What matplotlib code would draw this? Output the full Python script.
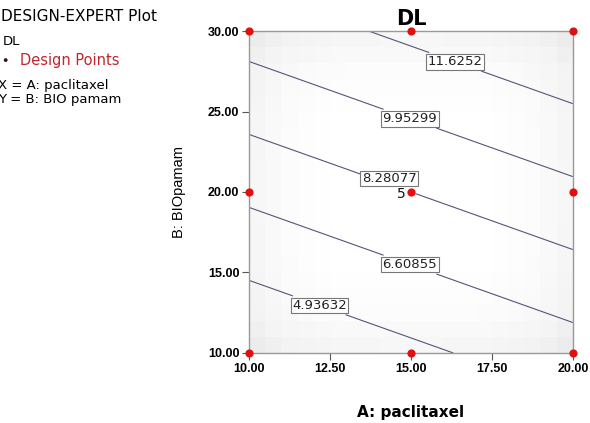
import numpy as np
import matplotlib
matplotlib.use("Agg")
import matplotlib.pyplot as plt

plt.rcParams['font.family'] = ['Liberation Sans', 'DejaVu Sans']

# Data
x_ticks = [10.00, 12.50, 15.00, 17.50, 20.00]
y_ticks = [10.00, 15.00, 20.00, 25.00, 30.00]
contour_levels = [4.93632, 6.60855, 8.28077, 9.95299, 11.6252]
contour_texts = ['4.93632', '6.60855', '8.28077', '9.95299', '11.6252']
# fitted linear model in coded units: DL = b0 + bA*A + bB*B
b0, bA, bB = 8.28077, 1.32, 3.69
design_A = [10, 15, 20, 10, 15, 20, 10, 15, 20]
design_B = [10, 10, 10, 20, 20, 20, 30, 30, 30]
center_count = "5"

fig = plt.figure(figsize=(5.9, 4.23), dpi=100)
ax = fig.add_axes([0.422, 0.1655, 0.549, 0.7612])

A = np.linspace(10, 20, 201)
B = np.linspace(10, 30, 201)
AA, BB = np.meshgrid(A, B)
Ac = (AA - 15) / 5
Bc = (BB - 20) / 10
Z = b0 + bA * Ac + bB * Bc

# faint background shading (coarse blocks, darker at the edges)
ga = np.linspace(10, 20, 21)
gb = np.linspace(10, 30, 21)
GA, GB = np.meshgrid((ga[:-1] + ga[1:]) / 2, (gb[:-1] + gb[1:]) / 2)
shade = ((GA - 15) / 5) ** 4 + ((GB - 20) / 10) ** 4
ax.pcolormesh(ga, gb, shade, cmap='Greys', vmin=0, vmax=11, shading='flat', zorder=0)

cs = ax.contour(AA, BB, Z, levels=contour_levels, colors='#55557a', linewidths=0.8, zorder=2)
label_pos = [(12.13, 12.73), (15.03, 15.84), (14.4, 20.9), (15.03, 24.9), (16.42, 28.39)]
fmt = dict(zip(contour_levels, contour_texts))
labels = ax.clabel(cs, fmt=fmt, manual=label_pos, inline=True, inline_spacing=4,
                   fontsize=9.5, colors='#222222')
for t in labels:
    t.set_rotation(0)
    t.set_family('DejaVu Sans')
    t.set_bbox(dict(boxstyle='square,pad=0.1', fc='white', ec='#777777', lw=0.8))
    if t.get_text() == '8.28077':
        px, py = t.get_position()
        t.set_position((px, py + 0.35))

ax.scatter(design_A, design_B, s=24, color='#e01010', zorder=5, clip_on=False)
ax.text(14.85, 19.85, center_count, ha='right', va='center', fontsize=10,
        family='DejaVu Sans', color='#111111', zorder=6)

ax.set_xlim(10, 20)
ax.set_ylim(10, 30)
ax.set_xticks(x_ticks)
ax.set_yticks(y_ticks)
ax.set_xticklabels(['%.2f' % v for v in x_ticks], fontsize=9, fontweight='bold')
ax.set_yticklabels(['%.2f' % v for v in y_ticks], fontsize=9, fontweight='bold')
ax.tick_params(direction='out', length=5, width=0.8, color='#555555', pad=2)
for s in ax.spines.values():
    s.set_color('#999999')
    s.set_linewidth(1.0)

ax.set_title('DL', fontsize=15, pad=4, family='DejaVu Sans', fontweight='bold')
ax.set_xlabel('A: paclitaxel', fontsize=11, labelpad=22, family='DejaVu Sans', fontweight='bold')
ax.set_ylabel('B: BIOpamam', fontsize=10.5, labelpad=16)

tf = dict(fontsize=9.5, va='center', ha='left', family='DejaVu Sans')
fig.text(0.002, 0.960, 'DESIGN-EXPERT Plot', fontsize=11, va='center', ha='left',
         family='DejaVu Sans')
fig.text(0.004, 0.901, 'DL', **tf)
fig.text(0.004, 0.858, '\u25cf', fontsize=6.5, va='center', ha='left', color='#3a1010')
fig.text(0.034, 0.858, 'Design Points', fontsize=10.5, va='center', ha='left',
         family='DejaVu Sans', color='#c0262d')
fig.text(-0.004, 0.798, 'X = A: paclitaxel', **tf)
fig.text(-0.004, 0.765, 'Y = B: BIO pamam', **tf)

fig.savefig('out.png', dpi=100)
